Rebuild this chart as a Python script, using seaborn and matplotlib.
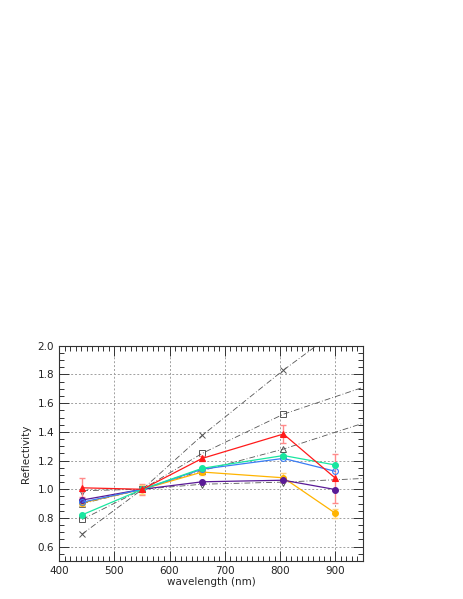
import matplotlib
matplotlib.use("Agg")
import matplotlib.pyplot as plt
import seaborn as sns
from matplotlib.ticker import MultipleLocator

# measured points (wavelength in nm)
wavelength = [442, 551, 659, 806, 900]
red = [1.01, 1.00, 1.215, 1.385, 1.077]
red_err = [0.065, 0.04, 0.02, 0.06, 0.17]
green = [0.822, 1.00, 1.146, 1.235, 1.169]
blue = [0.91, 1.00, 1.14, 1.215, 1.125]
yellow = [0.905, 1.00, 1.12, 1.08, 0.833]
yellow_err = [0.02, 0.03, 0.02, 0.03, 0.03]
purple = [0.925, 1.00, 1.052, 1.063, 0.998]

# reference curves (grey dash-dot)
ref_wl = [442, 551, 659, 806, 950]
ref_x = [0.688, 1.00, 1.375, 1.83, 2.24]
ref_square = [0.79, 1.00, 1.25, 1.523, 1.71]
ref_triangle = [0.90, 1.00, 1.13, 1.28, 1.46]
ref_diamond = [0.99, 1.00, 1.035, 1.05, 1.075]

sns.set_style("ticks")
plt.rcParams['font.family'] = ['DejaVu Sans']

fig = plt.figure(figsize=(4.63, 5.99), dpi=100)
ax = fig.add_axes([0.1274, 0.0634, 0.6566, 0.3594])

dashdot = (0, (7, 2.5, 1, 2.5))
grey = '#555555'
for vals, mk in [(ref_x, 'x'), (ref_square, 's'), (ref_triangle, '^'), (ref_diamond, 'd')]:
    sns.lineplot(x=ref_wl, y=vals, color=grey, linewidth=0.6, linestyle=dashdot,
                 marker=mk, markersize=4, markerfacecolor='none', markeredgecolor=grey,
                 markeredgewidth=0.7, markevery=[0, 1, 2, 3], ax=ax)

# error bars
ax.errorbar(wavelength, red, yerr=red_err, fmt='none', ecolor='#ff8a8a', elinewidth=1,
            capsize=2, capthick=1, zorder=3)
ax.errorbar(wavelength, yellow, yerr=yellow_err, fmt='none', ecolor='#ffd27a', elinewidth=1,
            capsize=2, capthick=1, zorder=3)

series = [
    (yellow, '#ffb400', 'o', True),
    (purple, '#5a1a96', 'o', True),
    (blue, '#3a7df5', 'o', False),
    (green, '#19e6a0', 'o', True),
    (red, '#ff1a1a', '^', True),
]
for vals, col, mk, filled in series:
    sns.lineplot(x=wavelength, y=vals, color=col, linewidth=0.9, marker=mk,
                 markersize=4.2, markerfacecolor=col if filled else 'none',
                 markeredgecolor=col, markeredgewidth=0.8, ax=ax, zorder=4)

ax.set_xlim(400, 950)
ax.set_ylim(0.5, 2.0)
ax.xaxis.set_major_locator(MultipleLocator(100))
ax.xaxis.set_minor_locator(MultipleLocator(10))
ax.yaxis.set_major_locator(MultipleLocator(0.2))
ax.yaxis.set_minor_locator(MultipleLocator(0.05))
ax.set_yticks([0.6, 0.8, 1.0, 1.2, 1.4, 1.6, 1.8, 2.0])
ax.yaxis.set_major_formatter(matplotlib.ticker.FormatStrFormatter('%.1f'))
ax.tick_params(which='both', direction='in', top=True, right=True, colors='#333333',
               labelcolor='#222222', labelsize=7.5, width=0.7)
ax.tick_params(which='major', length=7)
ax.tick_params(which='minor', length=3.5)
ax.grid(True, which='major', color='#a0a0a0', linestyle=(0, (2, 2)), linewidth=0.7)
for s in ax.spines.values():
    s.set_color('#333333')
    s.set_linewidth(0.8)

ax.set_xlabel('wavelength (nm)', fontsize=7.5, labelpad=1)
ax.set_ylabel('Reflectivity', fontsize=7.5, labelpad=5)

fig.savefig('out.png', dpi=100)
